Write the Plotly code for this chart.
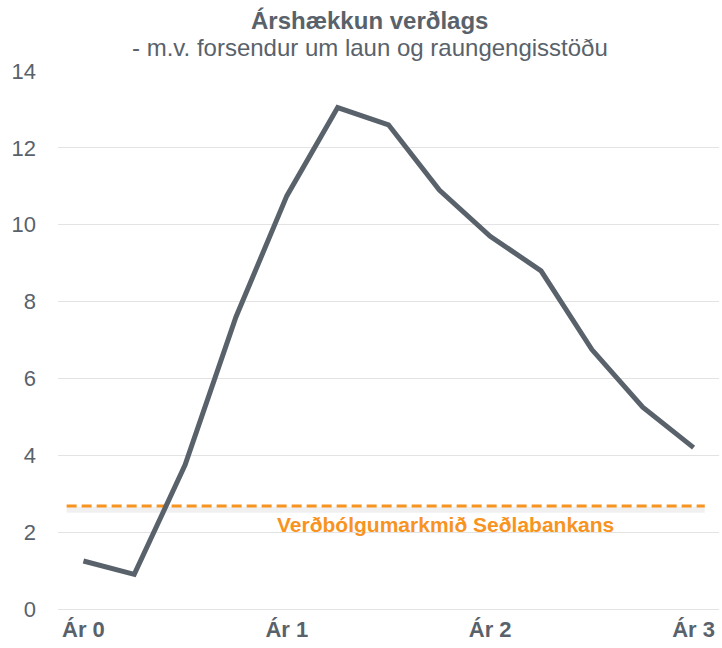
import plotly.graph_objects as go

# quarterly points, year labels every 4th quarter
quarters = list(range(13))
inflation = [1.25, 0.9, 3.75, 7.6, 10.75, 13.05, 12.6, 10.9, 9.7, 8.8, 6.75, 5.25, 4.2]
year_ticks = [0, 4, 8, 12]
year_labels = ['Ár 0', 'Ár 1', 'Ár 2', 'Ár 3']

target = 2.68
target_span = [-0.33, 12.22]
target_label = 'Verðbólgumarkmið Seðlabankans'

grey = '#59626B'
orange = '#F7931E'
font = 'Liberation Sans, Arial, sans-serif'

fig = go.Figure()

# soft shadow under the target line
fig.add_trace(go.Scatter(x=target_span, y=[target - 0.1, target - 0.1], mode='lines',
                         line=dict(color='rgba(0,0,0,0.06)', width=6),
                         hoverinfo='skip', showlegend=False))
fig.add_trace(go.Scatter(x=target_span, y=[target, target], mode='lines',
                         line=dict(color=orange, width=3, dash='10px,5px'),
                         hoverinfo='skip', showlegend=False))
fig.add_trace(go.Scatter(x=quarters, y=inflation, mode='lines',
                         line=dict(color=grey, width=5), showlegend=False))

fig.add_annotation(x=7.12, y=2.19, text='<b>' + target_label + '</b>', showarrow=False,
                   font=dict(color=orange, size=21, family=font))

fig.add_annotation(xref='paper', yref='paper', x=0.472, y=1.093, yanchor='middle',
                   text='<b>Árshækkun verðlags</b>',
                   showarrow=False, font=dict(color=grey, size=24, family=font))
fig.add_annotation(xref='paper', yref='paper', x=0.472, y=1.043, yanchor='middle',
                   text='- m.v. forsendur um laun og raungengisstöðu',
                   showarrow=False, font=dict(color=grey, size=24, family=font))

fig.update_layout(
    width=722, height=648,
    margin=dict(l=58, r=3, t=71, b=39),
    plot_bgcolor='white', paper_bgcolor='white',
    font=dict(family=font, color=grey),
    xaxis=dict(range=[-0.5, 12.5], tickvals=year_ticks, ticktext=['<b>' + t + '</b>' for t in year_labels],
               showgrid=False, zeroline=False, showline=False, ticks='',
               ticklabelstandoff=5, tickfont=dict(size=22, color=grey)),
    yaxis=dict(range=[0, 14], dtick=2, showgrid=True, gridcolor='#E3E3E3', gridwidth=1,
               zeroline=True, zerolinecolor='#E3E3E3', zerolinewidth=1, ticks='',
               ticklabelstandoff=21, tickfont=dict(size=22, color=grey)),
)

fig.write_html('out.html', config={'displayModeBar': False},
               post_script="document.body.style.margin='0px';")
